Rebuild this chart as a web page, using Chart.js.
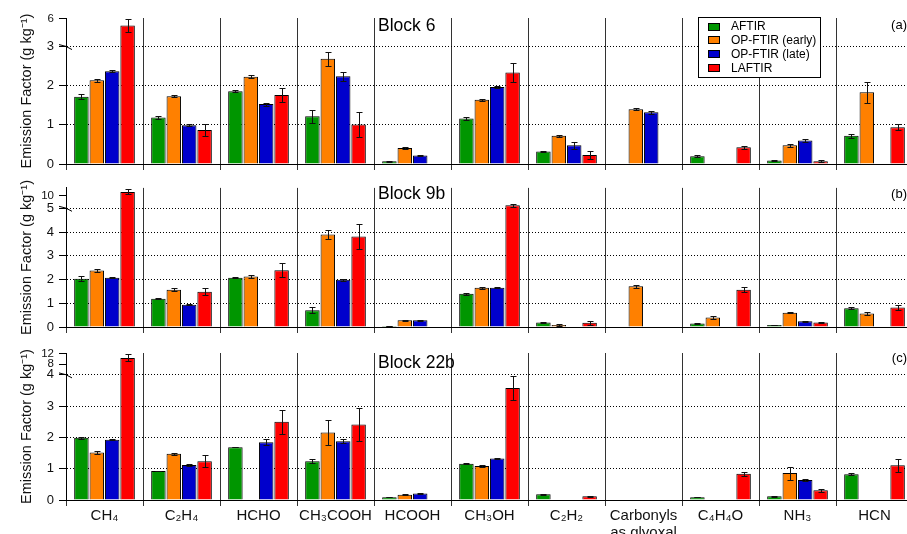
<!DOCTYPE html>
<html>
<head>
<meta charset="utf-8">
<script src="https://cdn.jsdelivr.net/npm/chart.js@4.4.0/dist/chart.umd.min.js"></script>
<style>
html, body { margin: 0; padding: 0; background: #fff; overflow: hidden; width: 907px; height: 534px; }
canvas { position: absolute; left: 0; }
</style>
</head>
<body>
<canvas id="pa" width="915" height="178" style="top:0px"></canvas>
<canvas id="pb" width="915" height="165" style="top:176px"></canvas>
<canvas id="pc" width="915" height="194" style="top:340px"></canvas>
<script>
// categories and series
const categories = ['CH₄', 'C₂H₄', 'HCHO', 'CH₃COOH', 'HCOOH', 'CH₃OH', 'C₂H₂', ['Carbonyls', 'as glyoxal'], 'C₄H₄O', 'NH₃', 'HCN'];
const seriesNames = ['AFTIR', 'OP-FTIR (early)', 'OP-FTIR (late)', 'LAFTIR'];
const seriesColors = ['#009600', '#ff8000', '#0000cc', '#ff0000'];

// Block 6 (a)
const b6Aftir = [1.72, 1.19, 1.86, 1.22, 0.07, 1.16, 0.32, null, 0.20, 0.09, 0.72];
const b6AftirErr = [0.06, 0.03, 0.03, 0.16, 0.01, 0.03, 0.01, null, 0.02, 0.02, 0.05];
const b6Early = [2.14, 1.73, 2.23, 2.69, 0.41, 1.64, 0.72, 1.40, null, 0.48, 1.83];
const b6EarlyErr = [0.04, 0.03, 0.04, 0.18, 0.02, 0.03, 0.02, 0.02, null, 0.04, 0.27];
const b6Late = [2.37, 0.99, 1.53, 2.24, 0.22, 1.97, 0.48, 1.32, null, 0.60, null];
const b6LateErr = [0.03, 0.03, 0.04, 0.11, 0.01, 0.02, 0.09, 0.04, null, 0.03, null];
const b6Laftir = [5.25, 0.87, 1.76, 1.01, null, 2.34, 0.23, null, 0.43, 0.07, 0.94];
const b6LaftirErr = [0.7, 0.15, 0.17, 0.32, null, 0.25, 0.10, null, 0.04, 0.02, 0.07];

// Block 9b (b)
const b9Aftir = [2.03, 1.19, 2.08, 0.71, 0.04, 1.40, 0.19, null, 0.15, 0.08, 0.79];
const b9AftirErr = [0.11, 0.02, 0.02, 0.12, 0.01, 0.04, 0.02, null, 0.02, 0.01, 0.04];
const b9Early = [2.38, 1.57, 2.13, 3.90, 0.28, 1.65, 0.08, 1.72, 0.40, 0.60, 0.57];
const b9EarlyErr = [0.06, 0.07, 0.05, 0.18, 0.02, 0.05, 0.05, 0.06, 0.05, 0.03, 0.05];
const b9Late = [2.07, 0.94, null, 1.99, 0.28, 1.65, null, null, null, 0.24, null];
const b9LateErr = [0.02, 0.02, null, 0.04, 0.02, 0.02, null, null, null, 0.03, null];
const b9Laftir = [11.5, 1.49, 2.39, 3.81, null, 6.2, 0.18, null, 1.57, 0.19, 0.82];
const b9LaftirErr = [1.0, 0.16, 0.30, 0.51, null, 0.5, 0.08, null, 0.10, 0.03, 0.12];

// Block 22b (c)
const b22Aftir = [1.99, 0.93, 1.69, 1.24, 0.09, 1.16, 0.18, null, 0.09, 0.12, 0.82];
const b22AftirErr = [0.03, 0.01, 0.01, 0.06, 0.01, 0.01, 0.01, null, 0.01, 0.01, 0.03];
const b22Early = [1.52, 1.48, null, 2.16, 0.17, 1.09, null, null, null, 0.86, null];
const b22EarlyErr = [0.05, 0.03, null, 0.39, 0.01, 0.03, null, null, null, 0.21, null];
const b22Late = [1.93, 1.12, 1.85, 1.88, 0.21, 1.33, null, null, null, 0.64, null];
const b22LateErr = [0.02, 0.02, 0.09, 0.06, 0.01, 0.02, null, null, null, 0.03, null];
const b22Laftir = [10.3, 1.24, 2.50, 2.41, null, 3.58, 0.12, null, 0.84, 0.31, 1.11];
const b22LaftirErr = [1.3, 0.20, 0.39, 0.52, null, 0.37, 0.02, null, 0.07, 0.05, 0.20];

// y tick labels of each panel (broken axis)
const ticksA = [0, 1, 2, 3, 6];
const ticksB = [0, 1, 2, 3, 4, 5, 10];
const ticksC = [0, 1, 2, 3, 4, 8, 12];

Chart.defaults.font.family = '"Liberation Sans", Arial, Helvetica, sans-serif';
Chart.defaults.color = '#000';

// linear scale with a compressed part above the break value
function makeBrokenScale(id, at, k) {
  class Broken extends Chart.LinearScale {
    getPixelForValue(v) {
      if (v === null || v === undefined) return NaN;
      return super.getPixelForValue(v > at ? at + (v - at) * k : v);
    }
  }
  Broken.id = id;
  Broken.defaults = Chart.LinearScale.defaults;
  Chart.register(Broken);
}
makeBrokenScale('brokenA', 3, 0.239);
makeBrokenScale('brokenB', 5, 0.106);
makeBrokenScale('brokenC', 4, 0.086);

const errorBars = {
  id: 'errorBars',
  afterDatasetsDraw(chart) {
    const ctx = chart.ctx, ys = chart.scales.y;
    ctx.save();
    ctx.strokeStyle = '#111';
    ctx.lineWidth = 1;
    chart.data.datasets.forEach((ds, di) => {
      const meta = chart.getDatasetMeta(di);
      ds.errors.forEach((e, i) => {
        const v = ds.data[i];
        if (v == null || e == null) return;
        const x = Math.round(meta.data[i].x) + 0.5;
        const y1 = Math.round(ys.getPixelForValue(v + e)) + 0.5;
        const y2 = Math.round(ys.getPixelForValue(Math.max(v - e, 0))) + 0.5;
        ctx.beginPath();
        ctx.moveTo(x, y1); ctx.lineTo(x, y2);
        ctx.moveTo(x - 3, y1); ctx.lineTo(x + 3, y1);
        ctx.moveTo(x - 3, y2); ctx.lineTo(x + 3, y2);
        ctx.stroke();
      });
    });
    ctx.restore();
  }
};

const panelDecor = {
  id: 'panelDecor',
  afterDraw(chart, args, opts) {
    const ctx = chart.ctx, area = chart.chartArea, ys = chart.scales.y;
    ctx.save();
    // break mark on the y axis
    const yb = ys.getPixelForValue(opts.brk);
    ctx.strokeStyle = '#000';
    ctx.lineWidth = 1;
    ctx.beginPath();
    ctx.moveTo(area.left - 7, yb - 2);
    ctx.quadraticCurveTo(area.left, yb - 1, area.left + 6, yb + 3);
    ctx.stroke();
    ctx.fillStyle = '#000';
    ctx.textBaseline = 'top';
    ctx.font = '17.5px "Liberation Sans", Arial, sans-serif';
    ctx.textAlign = 'left';
    ctx.fillText(opts.title, 378, area.top + opts.titleDy);
    ctx.font = '13px "Liberation Sans", Arial, sans-serif';
    ctx.textAlign = 'right';
    ctx.fillText(opts.tag, 907, area.top + opts.tagDy);
    if (opts.legend) {
      const lx = 698.5, ly = 17.5, lw = 122, lh = 60;
      ctx.fillStyle = '#fff';
      ctx.fillRect(lx, ly, lw, lh);
      ctx.strokeStyle = '#000';
      ctx.strokeRect(lx, ly, lw, lh);
      ctx.font = '12px "Liberation Sans", Arial, sans-serif';
      ctx.textAlign = 'left';
      ctx.textBaseline = 'middle';
      chart.data.datasets.forEach((ds, i) => {
        const cy = 26.5 + i * 13.9;
        ctx.fillStyle = ds.backgroundColor;
        ctx.fillRect(708.5, Math.round(cy) - 3.5, 11, 7);
        ctx.strokeRect(708.5, Math.round(cy) - 3.5, 11, 7);
        ctx.fillStyle = '#000';
        ctx.fillText(ds.label, 731, cy + 0.5);
      });
    }
    ctx.restore();
  }
};

function makePanel(id, cfg) {
  const values = cfg.values, errs = cfg.errs;
  const datasets = seriesNames.map((name, i) => ({
    label: name,
    data: values[i],
    errors: errs[i],
    backgroundColor: seriesColors[i],
    borderColor: '#000',
    borderWidth: 1,
    categoryPercentage: 0.8,
    barPercentage: 0.94
  }));
  new Chart(document.getElementById(id), {
    type: 'bar',
    data: { labels: categories, datasets: datasets },
    plugins: [errorBars, panelDecor],
    options: {
      responsive: false,
      animation: false,
      events: [],
      layout: { padding: { top: cfg.padTop, right: 2, left: 0, bottom: 0 } },
      plugins: {
        legend: { display: false },
        tooltip: { enabled: false },
        panelDecor: { brk: cfg.brk, title: cfg.title, tag: cfg.tag, legend: cfg.legend, titleDy: cfg.titleDy, tagDy: cfg.tagDy }
      },
      scales: {
        x: {
          afterFit: s => { s.height = cfg.xHeight; },
          grid: { offset: true, color: '#333', tickColor: '#333', tickLength: 6 },
          border: { color: '#000' },
          ticks: {
            display: cfg.showLabels, autoSkip: false, maxRotation: 0, padding: 2,
            color: '#111', font: { size: 15, lineHeight: 1.1 }
          }
        },
        y: {
          type: cfg.scale,
          min: 0,
          max: cfg.maxT,
          afterFit: s => { s.width = 66; },
          afterBuildTicks: s => { s.ticks = cfg.ticks.map(v => ({ value: v })); },
          ticks: {
            autoSkip: false, padding: 5, color: '#111',
            font: c => ({ size: c.tick && c.tick.value > cfg.brk ? 11.5 : 13 }),
            callback: v => String(v)
          },
          grid: {
            color: c => (c.tick && c.tick.value > 0 && c.tick.value <= cfg.brk) ? '#000' : 'rgba(0,0,0,0)',
            tickColor: '#000', tickLength: 7, tickBorderDash: []
          },
          border: { color: '#000', dash: [1, 2] },
          title: {
            display: true, text: 'Emission Factor (g kg⁻¹)', color: '#111',
            font: { size: 14.5 }, padding: { top: 18, bottom: 0 }
          }
        }
      }
    }
  });
}

makePanel('pa', {
  values: [b6Aftir, b6Early, b6Late, b6Laftir],
  errs: [b6AftirErr, b6EarlyErr, b6LateErr, b6LaftirErr],
  scale: 'brokenA', brk: 3, maxT: 3.73, ticks: ticksA,
  padTop: 18, xHeight: 14, showLabels: false,
  title: 'Block 6', tag: '(a)', legend: true, titleDy: -1, tagDy: 1
});
makePanel('pb', {
  values: [b9Aftir, b9Early, b9Late, b9Laftir],
  errs: [b9AftirErr, b9EarlyErr, b9LateErr, b9LaftirErr],
  scale: 'brokenB', brk: 5, maxT: 5.86, ticks: ticksB,
  padTop: 11, xHeight: 14, showLabels: false,
  title: 'Block 9b', tag: '(b)', legend: false, titleDy: -2, tagDy: 0
});
makePanel('pc', {
  values: [b22Aftir, b22Early, b22Late, b22Laftir],
  errs: [b22AftirErr, b22EarlyErr, b22LateErr, b22LaftirErr],
  scale: 'brokenC', brk: 4, maxT: 4.70, ticks: ticksC,
  padTop: 13, xHeight: 34, showLabels: true,
  title: 'Block 22b', tag: '(c)', legend: false, titleDy: 1, tagDy: -1
});
</script>
</body>
</html>
